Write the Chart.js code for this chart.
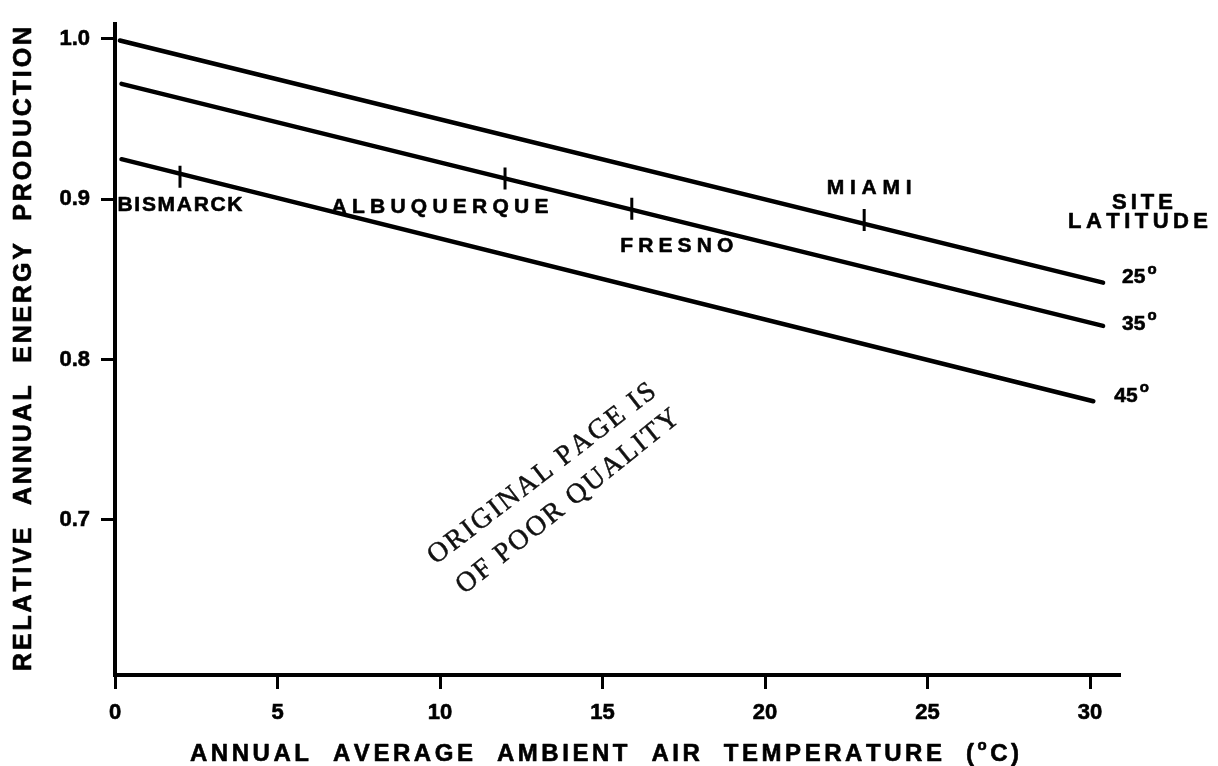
<!DOCTYPE html>
<html>
<head>
<meta charset="utf-8">
<title>Relative annual energy production vs ambient temperature</title>
<style>
  html, body { margin: 0; padding: 0; background: #fff; }
  #wrap { width: 1218px; height: 766px; position: relative; }
  canvas { display: block; }
</style>
<script src="https://cdn.jsdelivr.net/npm/chart.js@4/dist/chart.umd.min.js"></script>
</head>
<body>
<div id="wrap"><canvas id="chart" width="1218" height="766"></canvas></div>
<script>
// ---- data ----
const latitudes   = ['25', '35', '45'];                 // site latitude, degrees
const lineTemps   = [[0.15, 30.4], [0.2, 30.4], [0.2, 30.1]];   // °C, line ends
const lineValues  = [[0.999, 0.848], [0.972, 0.821], [0.925, 0.774]];
const siteNames   = ['BISMARCK', 'ALBUQUERQUE', 'FRESNO', 'MIAMI'];
const siteTemps   = [2.0, 12.0, 15.9, 23.05];
const siteValues  = [0.914, 0.913, 0.894, 0.887];
const xTicks      = [0, 5, 10, 15, 20, 25, 30];
const yTicks      = [0.7, 0.8, 0.9, 1.0];
const xTitle      = 'ANNUAL  AVERAGE  AMBIENT  AIR  TEMPERATURE  (';
const yTitle      = 'RELATIVE  ANNUAL  ENERGY  PRODUCTION';
const stampLines  = ['ORIGINAL PAGE IS', 'OF POOR QUALITY'];

// ---- styling / placement ----
const SANS  = '"Liberation Sans", Arial, Helvetica, sans-serif';
const SERIF = '"Liberation Serif", "Times New Roman", serif';
const bold  = px => 'bold ' + px + 'px ' + SANS;
const INK   = 0.6;   // extra stroke to give the heavy printed look

// label boxes relative to each site marker: [dx of centre, dy of centre, width]
const siteLabelBox = [[0, 28, 125], [-65, 29, 217], [45, 37, 113], [5, -32, 85]];
// latitude label offset from each line's right end
const latLabelOffset = [[19, -5], [19, -2], [21, -5]];

function ink(ctx, ch, x, y, stroke) {
  ctx.fillText(ch, x, y);
  if (stroke) { ctx.lineWidth = stroke; ctx.strokeText(ch, x, y); }
}

// Draw a run of characters spread evenly between x0 and x1 (letter-spaced).
function spread(ctx, parts, x0, x1, yc, stroke = INK) {
  const chars = [];
  parts.forEach(p => { for (const ch of p.s) chars.push({ ch, font: p.font, dy: p.dy || 0 }); });
  let total = 0;
  chars.forEach(c => { ctx.font = c.font; c.w = ctx.measureText(c.ch).width; total += c.w; });
  const gap = chars.length > 1 ? (x1 - x0 - total) / (chars.length - 1) : 0;
  let x = x0;
  ctx.textAlign = 'left';
  ctx.textBaseline = 'middle';
  chars.forEach(c => { ctx.font = c.font; ink(ctx, c.ch, x, yc + c.dy, stroke); x += c.w + gap; });
}

const annotations = {
  id: 'annotations',
  afterDraw(chart) {
    const ctx = chart.ctx;
    ctx.save();
    ctx.fillStyle = '#000';
    ctx.strokeStyle = '#000';
    ctx.lineJoin = 'round';

    // y-axis title (rotated)
    ctx.save();
    ctx.translate(24, 349);
    ctx.rotate(-Math.PI / 2);
    spread(ctx, [{ s: yTitle, font: bold(25) }], -322, 322, 0);
    ctx.restore();

    // x-axis title with superscript degree
    spread(ctx, [
      { s: xTitle, font: bold(24) },
      { s: 'o', font: bold(15), dy: -8 },
      { s: 'C)', font: bold(24) }
    ], 190, 1019, 754);

    // site names next to their markers
    const siteMeta = chart.getDatasetMeta(latitudes.length);
    siteNames.forEach((name, i) => {
      const pt = siteMeta.data[i];
      const [dx, dy, w] = siteLabelBox[i];
      const cx = pt.x + dx, cy = pt.y + dy;
      spread(ctx, [{ s: name, font: bold(21) }], cx - w / 2, cx + w / 2, cy);
    });

    // latitude header
    spread(ctx, [{ s: 'SITE', font: bold(22) }], 1112, 1173, 203);
    spread(ctx, [{ s: 'LATITUDE', font: bold(22) }], 1068, 1208, 222);

    // latitude value at the end of each line
    latitudes.forEach((lat, i) => {
      const meta = chart.getDatasetMeta(i);
      const end = meta.data[meta.data.length - 1];
      const x = end.x + latLabelOffset[i][0];
      const y = end.y + latLabelOffset[i][1];
      ctx.textAlign = 'left';
      ctx.textBaseline = 'middle';
      ctx.font = bold(21);
      ink(ctx, lat, x, y, INK);
      const w = ctx.measureText(lat).width;
      ctx.font = bold(15);
      ink(ctx, 'o', x + w + 2, y - 8, INK);
    });

    // rubber-stamp note across the lower plot
    ctx.fillStyle = '#111';
    ctx.strokeStyle = '#111';
    const stamp = [[542, 474, -37.5, 280], [568, 502, -38.8, 278]];
    stampLines.forEach((txt, i) => {
      const [cx, cy, ang, len] = stamp[i];
      ctx.save();
      ctx.translate(cx, cy);
      ctx.rotate(ang * Math.PI / 180);
      spread(ctx, [{ s: txt, font: '28px ' + SERIF }], -len / 2, len / 2, 0, 0.5);
      ctx.restore();
    });

    ctx.restore();
  }
};

const lineSets = latitudes.map((lat, i) => ({
  label: lat + '°',
  data: lineTemps[i].map((t, j) => ({ x: t, y: lineValues[i][j] })),
  showLine: true,
  borderColor: '#000',
  borderWidth: 4.5,
  borderCapStyle: 'round',
  pointRadius: 0,
  pointHoverRadius: 0,
  tension: 0
}));

const siteSet = {
  label: 'sites',
  data: siteTemps.map((t, i) => ({ x: t, y: siteValues[i] })),
  showLine: false,
  pointStyle: 'line',
  pointRotation: 90,
  pointRadius: 11,
  pointHoverRadius: 11,
  pointBorderWidth: 3,
  pointBorderColor: '#000',
  borderColor: '#000'
};

const tickFont = { family: SANS, size: 22, weight: 'bold' };

new Chart(document.getElementById('chart'), {
  type: 'scatter',
  data: { datasets: [...lineSets, siteSet] },
  options: {
    responsive: false,
    animation: false,
    events: [],
    layout: { padding: { top: 12, right: 99, left: 0, bottom: 0 } },
    plugins: { legend: { display: false }, tooltip: { enabled: false }, title: { display: false } },
    scales: {
      x: {
        type: 'linear',
        min: 0,
        max: 30.89,
        afterBuildTicks: s => { s.ticks = xTicks.map(v => ({ value: v })); },
        afterFit: s => { s.height = 91; },
        grid: { drawOnChartArea: false, drawTicks: true, tickLength: 14, lineWidth: 3, color: '#000', tickColor: '#000' },
        border: { display: true, color: '#000', width: 4 },
        ticks: {
          color: '#000', padding: 11, maxRotation: 0, autoSkip: false,
          font: tickFont, textStrokeColor: '#000', textStrokeWidth: INK,
          callback: v => String(v)
        }
      },
      y: {
        type: 'linear',
        min: 0.6032,
        max: 1.0092,
        afterBuildTicks: s => { s.ticks = yTicks.map(v => ({ value: v })); },
        afterFit: s => { s.width = 115; },
        grid: { drawOnChartArea: false, drawTicks: true, tickLength: 14, lineWidth: 3, color: '#000', tickColor: '#000' },
        border: { display: true, color: '#000', width: 4 },
        ticks: {
          color: '#000', padding: 11,
          font: tickFont, textStrokeColor: '#000', textStrokeWidth: INK,
          callback: v => Number(v).toFixed(1)
        }
      }
    }
  },
  plugins: [annotations]
});
</script>
</body>
</html>
